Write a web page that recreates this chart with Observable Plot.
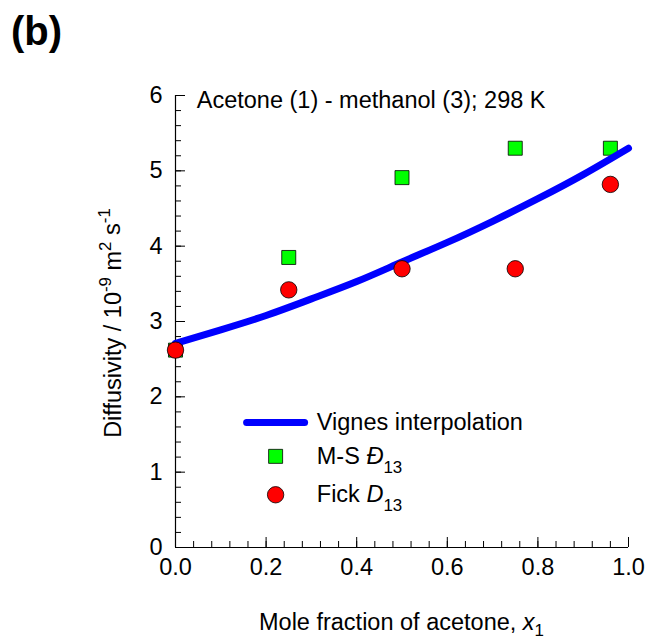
<!DOCTYPE html>
<html>
<head>
<meta charset="utf-8">
<script src="https://cdn.jsdelivr.net/npm/d3@7"></script>
<script src="https://cdn.jsdelivr.net/npm/@observablehq/plot@0.6"></script>
<style>
  html, body { margin: 0; padding: 0; background: #fff; }
  #chart { position: relative; width: 649px; height: 639px; }
  #chart svg { display: block; }
</style>
</head>
<body>
<div id="chart"></div>
<script>
// ---- data ----
const fractions = [0.0, 0.25, 0.5, 0.75, 0.96];
const msValues = [2.62, 3.85, 4.91, 5.30, 5.30];     // M-S Đ13 (green squares)
const fickValues = [2.62, 3.42, 3.70, 3.70, 4.82];   // Fick D13 (red circles)
const vignesX = [0.0, 0.1, 0.2, 0.3, 0.4, 0.5, 0.6, 0.7, 0.8, 0.9, 1.0];
const vignesY = [2.71, 2.89, 3.08, 3.30, 3.53, 3.79, 4.05, 4.33, 4.63, 4.95, 5.30];
const xMajorTicks = [0, 0.2, 0.4, 0.6, 0.8, 1.0];
const xMinorTicks = [0, 0.04, 0.08, 0.12, 0.16, 0.2, 0.24, 0.28, 0.32, 0.36, 0.4, 0.44, 0.48, 0.52, 0.56, 0.6, 0.64, 0.68, 0.72, 0.76, 0.8, 0.84, 0.88, 0.92, 0.96, 1.0];
const yMajorTicks = [0, 1, 2, 3, 4, 5, 6];
const yMinorTicks = d3.range(0, 30.5, 1).map(d => d / 5);
const legendLabels = ["Vignes interpolation", "M-S ", "Fick "];

const ms = fractions.map((x, i) => ({x, y: msValues[i]}));
const fick = fractions.map((x, i) => ({x, y: fickValues[i]}));
const vignes = vignesX.map((x, i) => ({x, y: vignesY[i]}));

const FONT = "Arial, 'Liberation Sans', sans-serif";
const FS = 23.5;

const plot = Plot.plot({
  width: 649,
  height: 639,
  marginLeft: 175,
  marginRight: 21,
  marginTop: 95,
  marginBottom: 92,
  style: {fontFamily: FONT, fontSize: FS + "px", color: "#000", background: "#fff"},
  x: {domain: [0, 1]},
  y: {domain: [0, 6]},
  marks: [
    // inward minor / major ticks
    Plot.axisX(xMinorTicks, {tickSize: -6, tickFormat: () => "", label: null, stroke: "#000"}),
    Plot.axisX(xMajorTicks, {tickSize: -10, tickFormat: () => "", label: null, stroke: "#000"}),
    Plot.axisX(xMajorTicks, {tickSize: 0, tickPadding: 11, tickFormat: d3.format(".1f"), label: null, fill: "#000", fontSize: FS}),
    Plot.axisY(yMinorTicks, {tickSize: -6, tickFormat: () => "", label: null, stroke: "#000"}),
    Plot.axisY(yMajorTicks, {tickSize: -10, tickFormat: () => "", label: null, stroke: "#000"}),
    Plot.axisY(yMajorTicks, {tickSize: 0, tickPadding: 13, tickFormat: d3.format("d"), label: null, fill: "#000", fontSize: FS}),
    Plot.ruleX([0], {stroke: "#000", strokeWidth: 1.2}),
    Plot.ruleY([0], {stroke: "#000", strokeWidth: 1.2}),
    // data
    Plot.dot(ms, {x: "x", y: "y", symbol: "square", r: 7.9, fill: "#00ff00", stroke: "#000", strokeWidth: 0.8}),
    Plot.line(vignes, {x: "x", y: "y", stroke: "#0000ff", strokeWidth: 7, strokeLinecap: "round", curve: "natural"}),
    Plot.dot(fick, {x: "x", y: "y", symbol: "circle", r: 8.2, fill: "#ff0000", stroke: "#000", strokeWidth: 0.8}),
    // legend swatches (data coordinates)
    Plot.line([{x: 0.157, y: 1.66}, {x: 0.285, y: 1.66}], {x: "x", y: "y", stroke: "#0000ff", strokeWidth: 7, strokeLinecap: "round"}),
    Plot.dot([{x: 0.221, y: 1.21}], {x: "x", y: "y", symbol: "square", r: 7.9, fill: "#00ff00", stroke: "#000", strokeWidth: 0.8}),
    Plot.dot([{x: 0.221, y: 0.70}], {x: "x", y: "y", symbol: "circle", r: 8.2, fill: "#ff0000", stroke: "#000", strokeWidth: 0.8})
  ]
});

document.getElementById("chart").appendChild(plot);

const sx = plot.scale("x").apply;
const sy = plot.scale("y").apply;
const svg = d3.select(plot);

const g = svg.append("g")
  .attr("font-family", FONT)
  .attr("font-size", FS)
  .attr("text-anchor", "start")
  .attr("fill", "#000");

// panel title inside plot
g.append("text")
  .attr("x", sx(0.048)).attr("y", sy(5.83))
  .text("Acetone (1) - methanol (3); 298 K");

// legend labels
const lx = sx(0.313);
g.append("text").attr("x", lx).attr("y", sy(1.66)).attr("dy", "0.35em").text(legendLabels[0]);

const t2 = g.append("text").attr("x", lx).attr("y", sy(1.21)).attr("dy", "0.35em");
t2.append("tspan").text(legendLabels[1]);
t2.append("tspan").attr("font-style", "italic").text("Đ");
t2.append("tspan").attr("font-size", FS * 0.72).attr("dy", "0.5em").text("13");

const t3 = g.append("text").attr("x", lx).attr("y", sy(0.70)).attr("dy", "0.35em");
t3.append("tspan").text(legendLabels[2]);
t3.append("tspan").attr("font-style", "italic").text("D");
t3.append("tspan").attr("font-size", FS * 0.72).attr("dy", "0.5em").text("13");

// x axis title
const xt = g.append("text")
  .attr("x", (sx(0) + sx(1)) / 2).attr("y", 630)
  .attr("text-anchor", "middle");
xt.append("tspan").text("Mole fraction of acetone, ");
xt.append("tspan").attr("font-style", "italic").text("x");
xt.append("tspan").attr("font-size", FS * 0.72).attr("dy", "0.35em").text("1");

// y axis title
const yt = g.append("text")
  .attr("transform", `translate(121,${(sy(0) + sy(6)) / 2 + 2}) rotate(-90)`)
  .attr("text-anchor", "middle");
yt.append("tspan").text("Diffusivity / 10");
yt.append("tspan").attr("font-size", FS * 0.72).attr("dy", "-0.6em").text("-9");
yt.append("tspan").attr("dy", "0.42em").text(" m");
yt.append("tspan").attr("font-size", FS * 0.72).attr("dy", "-0.6em").text("2");
yt.append("tspan").attr("dy", "0.42em").text(" s");
yt.append("tspan").attr("font-size", FS * 0.72).attr("dy", "-0.6em").text("-1");

// panel letter
svg.append("text")
  .attr("x", 11).attr("y", 45)
  .attr("text-anchor", "start")
  .attr("font-family", FONT).attr("font-size", 40).attr("font-weight", "bold")
  .text("(b)");
</script>
</body>
</html>
